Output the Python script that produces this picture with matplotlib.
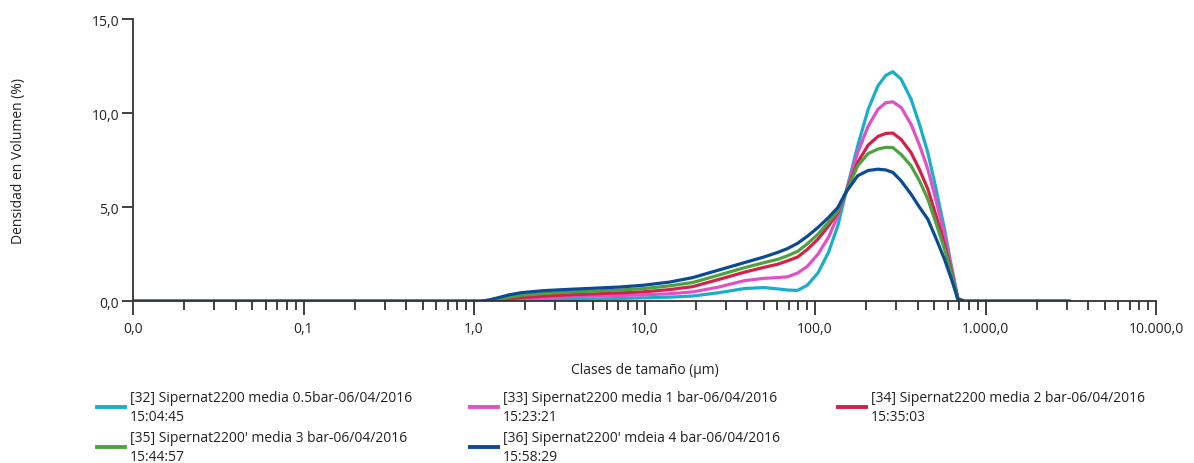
import matplotlib
matplotlib.use("Agg")
import matplotlib.pyplot as plt
from matplotlib.lines import Line2D
from matplotlib.ticker import FixedLocator, NullFormatter, LogLocator

plt.rcParams['font.family'] = ['Open Sans', 'DejaVu Sans']

# Particle size classes (µm)
size_um = [0.01, 1.0, 1.1, 1.25, 1.4, 1.6, 1.9, 2.6, 3.7, 5.2, 7.2, 9.75, 14, 19.2, 27, 38.7, 50,
           60.5, 69, 79, 90, 104, 120, 136, 152, 178, 205, 234, 260, 286, 320, 366,
           410, 459, 515, 575, 630, 689, 755, 3130]

s32 = [0, 0, 0, 0.0, 0.01, 0.02, 0.04, 0.07, 0.10, 0.12, 0.15, 0.18, 0.22, 0.28, 0.45, 0.68, 0.73,
       0.66, 0.60, 0.58, 0.85, 1.50, 2.60, 4.00, 5.80, 8.26, 10.2, 11.45, 12.0, 12.2, 11.8, 10.74,
       9.40, 7.90, 5.90, 3.83, 1.90, 0.15, 0, 0]
s33 = [0, 0, 0, 0.02, 0.05, 0.09, 0.14, 0.20, 0.25, 0.28, 0.31, 0.34, 0.40, 0.50, 0.75, 1.10, 1.22,
       1.26, 1.30, 1.50, 1.85, 2.50, 3.40, 4.54, 5.80, 7.90, 9.30, 10.2, 10.55, 10.6, 10.3, 9.40,
       8.30, 7.02, 5.30, 3.48, 1.80, 0.15, 0, 0]
s34 = [0, 0, 0, 0.03, 0.08, 0.14, 0.20, 0.28, 0.35, 0.40, 0.45, 0.50, 0.62, 0.78, 1.15, 1.55, 1.80,
       1.97, 2.15, 2.35, 2.75, 3.30, 4.00, 4.72, 5.80, 7.38, 8.30, 8.76, 8.92, 8.94, 8.60, 7.90,
       7.00, 5.96, 4.50, 3.03, 1.60, 0.12, 0, 0]
s35 = [0, 0, 0, 0.05, 0.12, 0.22, 0.32, 0.42, 0.50, 0.55, 0.60, 0.67, 0.82, 1.00, 1.38, 1.79, 2.05,
       2.23, 2.42, 2.65, 3.05, 3.56, 4.20, 4.80, 5.80, 7.20, 7.85, 8.09, 8.18, 8.17, 7.80, 7.20,
       6.40, 5.43, 4.10, 2.77, 1.50, 0.12, 0, 0]
s36 = [0, 0, 0, 0.09, 0.20, 0.34, 0.46, 0.57, 0.64, 0.70, 0.76, 0.85, 1.02, 1.26, 1.65, 2.06, 2.35,
       2.60, 2.80, 3.08, 3.45, 3.92, 4.45, 4.98, 5.80, 6.67, 6.95, 7.02, 6.98, 6.85, 6.40, 5.69,
       5.00, 4.36, 3.30, 2.23, 1.20, 0.10, 0, 0]

labels = [
    "[32] Sipernat2200 media 0.5bar-06/04/2016\n15:04:45",
    "[33] Sipernat2200 media 1 bar-06/04/2016\n15:23:21",
    "[34] Sipernat2200 media 2 bar-06/04/2016\n15:35:03",
    "[35] Sipernat2200' media 3 bar-06/04/2016\n15:44:57",
    "[36] Sipernat2200' mdeia 4 bar-06/04/2016\n15:58:29",
]
colors = ['#1AAFC8', '#E050C6', '#D4204A', '#4CA23E', '#0D4A96']
series = [s32, s33, s34, s35, s36]

x_ticks = [0.01, 0.1, 1, 10, 100, 1000, 10000]
x_ticklabels = ["0,0", "0,1", "1,0", "10,0", "100,0", "1.000,0", "10.000,0"]
y_ticks = [0, 5, 10, 15]
y_ticklabels = ["0,0", "5,0", "10,0", "15,0"]

W, H = 1194, 464
fig = plt.figure(figsize=(W / 100, H / 100), dpi=100)
ax = fig.add_axes([133 / W, 1 - 302.3 / H, 1023 / W, 282.3 / H])

for y, c in zip(series, colors):
    ax.plot(size_um, y, color=c, lw=2.3, solid_joinstyle='round', solid_capstyle='round')

ax.set_xscale('log')
ax.set_xlim(0.01, 10000)
ax.set_ylim(0, 15)
ax.xaxis.set_major_locator(FixedLocator(x_ticks))
ax.set_xticklabels(x_ticklabels)
ax.xaxis.set_minor_locator(LogLocator(base=10, subs=range(2, 10), numticks=100))
ax.xaxis.set_minor_formatter(NullFormatter())
ax.set_yticks(y_ticks)
ax.set_yticklabels(y_ticklabels)

for s in ['top', 'right']:
    ax.spines[s].set_visible(False)
for s in ['left', 'bottom']:
    ax.spines[s].set_color('#333333')
    ax.spines[s].set_linewidth(1.3)
ax.tick_params(axis='x', which='major', length=10, width=1.3, color='#333333',
               labelsize=10, labelcolor='#222222', pad=4)
ax.tick_params(axis='x', which='minor', length=6.5, width=1.3, color='#333333')
ax.tick_params(axis='y', which='major', length=8, width=1.3, color='#333333',
               labelsize=10, labelcolor='#222222', pad=2)

ax.set_xlabel("Clases de tamaño (µm)", fontsize=10, color='#222222', labelpad=19)
ax.set_ylabel("Densidad en Volumen (%)", fontsize=10, color='#222222', labelpad=47)

# Legend (manual placement, 3 columns)
pos = [(97, 408), (470, 408), (838, 408), (97, 448), (470, 448)]
for (px, py), lab, c in zip(pos, labels, colors):
    fig.add_artist(Line2D([px / W, (px + 28) / W], [1 - py / H, 1 - py / H],
                          color=c, lw=2.8, transform=fig.transFigure))
    fig.text((px + 33) / W, 1 - py / H, lab, fontsize=10, color='#222222',
             va='center', ha='left', linespacing=1.42)

fig.savefig("out.png", dpi=100)
